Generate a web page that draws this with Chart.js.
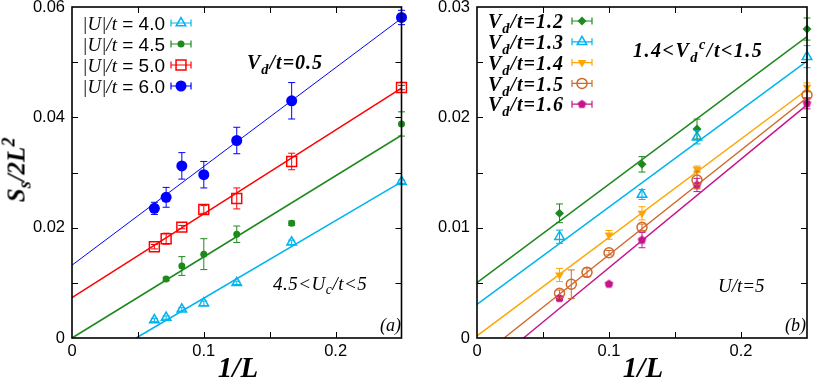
<!DOCTYPE html>
<html>
<head>
<meta charset="utf-8">
<script src="https://cdn.jsdelivr.net/npm/chart.js@4/dist/chart.umd.min.js"></script>
<style>
  body { margin: 0; width: 814px; height: 382px; overflow: hidden; background: #fff; position: relative; }
  canvas { position: absolute; }
  .t { position: absolute; white-space: nowrap; line-height: 1; color: #000; font-family: "Liberation Serif", serif; font-style: italic; }
  .t sub { font-size: 72%; vertical-align: -0.35em; line-height: 0; }
  .t sup { font-size: 72%; vertical-align: 0.55em; line-height: 0; }
  .b { font-weight: bold; }
  .sans { font-family: "Liberation Sans", sans-serif; font-style: normal; }
  .leg { font-size: 19px; transform: translateY(-50%); }
  .legb { font-size: 20px; letter-spacing: 1px; transform: translateY(-50%); }
  .note { font-size: 18px; transform: translateY(-50%); }
</style>
</head>
<body>
<canvas id="chart-a" width="410" height="402" style="left:0;top:-20px"></canvas>
<canvas id="chart-b" width="404" height="402" style="left:410px;top:-20px"></canvas>

<div class="t b" style="left:16px;top:170px;font-size:25px;transform:translate(-50%,-50%) rotate(-90deg)">S<sub>s</sub>/2L<sup>2</sup></div>
<div class="t b" style="left:238px;top:367px;font-size:29px;transform:translate(-50%,-50%)">1/L</div>
<div class="t b" style="left:643px;top:367px;font-size:29px;transform:translate(-50%,-50%)">1/L</div>

<div class="t leg" style="right:649px;top:23px">|U|/t<span class="sans"> = 4.0</span></div>
<div class="t leg" style="right:649px;top:44px">|U|/t<span class="sans"> = 4.5</span></div>
<div class="t leg" style="right:649px;top:65px">|U|/t<span class="sans"> = 5.0</span></div>
<div class="t leg" style="right:649px;top:86px">|U|/t<span class="sans"> = 6.0</span></div>

<div class="t b legb" style="right:250px;top:21px">V<sub>d</sub>/t=1.2</div>
<div class="t b legb" style="right:250px;top:42px">V<sub>d</sub>/t=1.3</div>
<div class="t b legb" style="right:250px;top:63px">V<sub>d</sub>/t=1.4</div>
<div class="t b legb" style="right:250px;top:84px">V<sub>d</sub>/t=1.5</div>
<div class="t b legb" style="right:250px;top:104px">V<sub>d</sub>/t=1.6</div>

<div class="t b note" style="left:247px;top:62px;font-size:20px;letter-spacing:1px">V<sub>d</sub>/t=0.5</div>
<div class="t note" style="left:273px;top:283px;font-size:19px;letter-spacing:0.5px">4.5&lt;U<sub>c</sub>/t&lt;5</div>
<div class="t note" style="right:413px;top:325px">(a)</div>
<div class="t b note" style="left:633px;top:50px;font-size:20px;letter-spacing:1.5px">1.4&lt;V<sub>d</sub><sup>c</sup>/t&lt;1.5</div>
<div class="t note" style="left:718px;top:285px;font-size:19px">U/t=5</div>
<div class="t note" style="right:8px;top:325px">(b)</div>

<script>
// ---------------------------------------------------------------------------
// Data. x is 1/L, y is S_s/2L^2, err is the half-height
// of each error bar. Fits are stored as intercept + slope.
// ---------------------------------------------------------------------------

const X_MAX = 0.25;
const xTickLabels = [0, 0.1, 0.2];
const xTickMarks = [0.05, 0.1, 0.15, 0.2];
const yTickLabelsA = [0, 0.02, 0.04, 0.06];
const yTickMarksA = [0.01, 0.02, 0.03, 0.04, 0.05];
const yTickLabelsB = [0, 0.01, 0.02, 0.03];
const yTickMarksB = [0.005, 0.01, 0.015, 0.02, 0.025];

// panel (a): V_d/t = 0.5
const aU40L = [16, 14, 12, 10, 8, 6, 4];
const aU40 = [0.00326, 0.0037, 0.0052, 0.0063, 0.0100, 0.01734, 0.02833];
const aU40Err = [0.0003, 0.0003, 0.0003, 0.0004, 0.0003, 0.0004, 0.0003];

const aU45L = [14, 12, 10, 8, 6, 4];
const aU45 = [0.0107, 0.01305, 0.0152, 0.0188, 0.0208, 0.0388];
const aU45Err = [0.0003, 0.0017, 0.0028, 0.0015, 0.0004, 0.0022];

const aU50L = [16, 14, 12, 10, 8, 6, 4];
const aU50 = [0.01655, 0.0180, 0.0201, 0.0233, 0.0253, 0.0320, 0.0454];
const aU50Err = [0.0004, 0.0010, 0.0003, 0.0007, 0.0019, 0.0015, 0.0004];

const aU60L = [16, 14, 12, 10, 8, 6, 4];
const aU60 = [0.0235, 0.0255, 0.0312, 0.0296, 0.0358, 0.0430, 0.0581];
const aU60Err = [0.0011, 0.0018, 0.0024, 0.0024, 0.0024, 0.0033, 0.0013];

const aFitIntercept = [-0.00683, 0, 0.0073, 0.0132];
const aFitSlope = [0.1405, 0.147, 0.152, 0.179];

// panel (b): U/t = 5
const bV12L = [16, 8, 6, 4];
const bV12 = [0.0113, 0.01574, 0.01894, 0.0280];
const bV12Err = [0.00085, 0.0007, 0.0009, 0.0010];

const bV13L = [16, 8, 6, 4];
const bV13 = [0.00918, 0.0130, 0.01819, 0.0255];
const bV13Err = [0.0006, 0.00045, 0.0006, 0.0010];

const bV14L = [16, 10, 8, 6, 4];
const bV14 = [0.00571, 0.00934, 0.0113, 0.01529, 0.02272];
const bV14Err = [0.0006, 0.0004, 0.0006, 0.0003, 0.0004];

const bV15L = [16, 14, 12, 10, 8, 6, 4];
const bV15 = [0.00405, 0.00487, 0.00595, 0.00773, 0.01003, 0.01432, 0.02202];
const bV15Err = [0.0003, 0.0013, 0.0004, 0.0002, 0.0003, 0.0008, 0.0003];

const bV16L = [16, 10, 8, 6, 4];
const bV16 = [0.0036, 0.00489, 0.00888, 0.01387, 0.02127];
const bV16Err = [0.0002, 0.0001, 0.0007, 0.0006, 0.0005];

const bFitIntercept = [0.00501, 0.00305, 0.0002, -0.00195, -0.00347];
const bFitSlope = [0.0892, 0.0882, 0.0892, 0.0949, 0.0984];

const CYAN = "#00b4f0", GREEN = "#1e8a1e", RED = "#ff0000", BLUE = "#0000ff";
const ORANGE = "#ffa500", BROWN = "#d0692a", MAGENTA = "#c8148c";

// ---------------------------------------------------------------------------
// Helpers
// ---------------------------------------------------------------------------

function pts(sizes, ys) {
  return sizes.map((L, i) => ({ x: 1 / L, y: ys[i] }));
}

function fitLine(b, m) {
  const x0 = Math.max(0, -b / m);
  return [{ x: x0, y: b + m * x0 }, { x: X_MAX, y: b + m * X_MAX }];
}

function pentagon(color, r) {
  const c = document.createElement("canvas");
  c.width = c.height = Math.ceil(r * 2 + 2);
  const g = c.getContext("2d");
  g.fillStyle = color;
  g.beginPath();
  for (let k = 0; k < 5; k++) {
    const a = -Math.PI / 2 + k * 2 * Math.PI / 5;
    g.lineTo(c.width / 2 + r * Math.cos(a), c.height / 2 + r * Math.sin(a));
  }
  g.closePath();
  g.fill();
  return c;
}

function marks(label, sizes, ys, errs, color, style) {
  return Object.assign({
    label, data: pts(sizes, ys), errors: errs,
    borderColor: color, backgroundColor: color,
    pointBorderWidth: 1.5, borderWidth: 1.5, order: 1, clip: false,
  }, style);
}

function fit(b, m, color, width) {
  return {
    type: "line", data: fitLine(b, m), showLine: true,
    borderColor: color, borderWidth: width || 1.5, pointRadius: 0, order: 2, clip: false,
  };
}

// ---------------------------------------------------------------------------
// Plugins: inward tick marks + frame, error bars, legend symbols
// ---------------------------------------------------------------------------

const frameTicks = {
  id: "frameTicks",
  afterDraw(chart, args, opts) {
    const { ctx, chartArea: { left, right, top, bottom }, scales: { x, y } } = chart;
    ctx.save();
    ctx.strokeStyle = "#000";
    ctx.lineWidth = 1;
    ctx.beginPath();
    opts.xMarks.forEach(v => {
      const px = Math.round(x.getPixelForValue(v)) + 0.5;
      ctx.moveTo(px, bottom); ctx.lineTo(px, bottom - 6);
      ctx.moveTo(px, top); ctx.lineTo(px, top + 6);
    });
    opts.yMarks.forEach(v => {
      const py = Math.round(y.getPixelForValue(v)) + 0.5;
      ctx.moveTo(left, py); ctx.lineTo(left + 6, py);
      ctx.moveTo(right, py); ctx.lineTo(right - 6, py);
    });
    ctx.stroke();
    ctx.lineWidth = 1.6;
    ctx.strokeRect(left, top, right - left, bottom - top);
    ctx.restore();
  },
};

const errorBars = {
  id: "errorBars",
  afterDatasetsDraw(chart) {
    const { ctx, scales: { y } } = chart;
    ctx.save();
    ctx.lineWidth = 1;
    chart.data.datasets.forEach((ds, i) => {
      if (!ds.errors) return;
      const meta = chart.getDatasetMeta(i);
      ctx.strokeStyle = ds.borderColor;
      ctx.beginPath();
      meta.data.forEach((pt, j) => {
        const v = ds.data[j].y, e = ds.errors[j];
        const y1 = y.getPixelForValue(v + e), y2 = y.getPixelForValue(v - e);
        ctx.moveTo(pt.x, y1); ctx.lineTo(pt.x, y2);
        ctx.moveTo(pt.x - 3.5, y1); ctx.lineTo(pt.x + 3.5, y1);
        ctx.moveTo(pt.x - 3.5, y2); ctx.lineTo(pt.x + 3.5, y2);
      });
      ctx.stroke();
    });
    ctx.restore();
  },
};

const legendMarks = {
  id: "legendMarks",
  afterDraw(chart, args, opts) {
    const ctx = chart.ctx;
    opts.rows.forEach((idx, k) => {
      const ds = chart.data.datasets[idx];
      const x = opts.x, y = opts.y0 + k * opts.dy;
      ctx.save();
      ctx.strokeStyle = ds.borderColor;
      ctx.lineWidth = 1.2;
      ctx.beginPath();
      ctx.moveTo(x - 10, y); ctx.lineTo(x + 10, y);
      ctx.moveTo(x - 10, y - 3.5); ctx.lineTo(x - 10, y + 3.5);
      ctx.moveTo(x + 10, y - 3.5); ctx.lineTo(x + 10, y + 3.5);
      ctx.stroke();
      ctx.fillStyle = ds.backgroundColor;
      ctx.lineWidth = ds.pointBorderWidth;
      Chart.helpers.drawPoint(ctx, {
        pointStyle: ds.pointStyle, radius: ds.pointRadius,
        rotation: ds.pointRotation || 0, borderWidth: ds.pointBorderWidth,
      }, x, y);
      ctx.restore();
    });
  },
};

// ---------------------------------------------------------------------------
// Chart setup
// ---------------------------------------------------------------------------

function axes(yMax, yLabels, yWidth) {
  const tickFont = { family: "Liberation Sans", size: 16.5 };
  return {
    x: {
      type: "linear", min: 0, max: X_MAX,
      grid: { display: false, drawTicks: false }, border: { display: false },
      ticks: { color: "#000", font: tickFont, padding: 4, maxRotation: 0 },
      afterBuildTicks: s => { s.ticks = xTickLabels.map(v => ({ value: v })); },
      afterFit: s => { s.height = 44; },
    },
    y: {
      type: "linear", min: 0, max: yMax,
      grid: { display: false, drawTicks: false }, border: { display: false },
      ticks: { color: "#000", font: tickFont, padding: 7 },
      afterBuildTicks: s => { s.ticks = yLabels.map(v => ({ value: v })); },
      afterFit: s => { s.width = yWidth; },
    },
  };
}

const open = "rgba(0,0,0,0)";

new Chart(document.getElementById("chart-a"), {
  type: "scatter",
  data: {
    datasets: [
      marks("|U|/t = 4.0", aU40L, aU40, aU40Err, CYAN, { pointStyle: "triangle", pointRadius: 5.5, backgroundColor: open }),
      marks("|U|/t = 4.5", aU45L, aU45, aU45Err, GREEN, { pointStyle: "circle", pointRadius: 3.5, pointBorderWidth: 0 }),
      marks("|U|/t = 5.0", aU50L, aU50, aU50Err, RED, { pointStyle: "rect", pointRadius: 7, backgroundColor: open }),
      marks("|U|/t = 6.0", aU60L, aU60, aU60Err, BLUE, { pointStyle: "circle", pointRadius: 5.5, pointBorderWidth: 0 }),
      fit(aFitIntercept[0], aFitSlope[0], CYAN),
      fit(aFitIntercept[1], aFitSlope[1], GREEN),
      fit(aFitIntercept[2], aFitSlope[2], RED),
      fit(aFitIntercept[3], aFitSlope[3], BLUE, 1),
    ],
  },
  options: {
    responsive: false, animation: false,
    layout: { padding: { top: 27, right: 6, left: 0, bottom: 0 } },
    scales: axes(0.06, yTickLabelsA, 72),
    plugins: {
      legend: { display: false }, tooltip: { enabled: false },
      frameTicks: { xMarks: xTickMarks, yMarks: yTickMarksA },
      legendMarks: { x: 181, y0: 43, dy: 21, rows: [0, 1, 2, 3] },
    },
  },
  plugins: [frameTicks, errorBars, legendMarks],
});

new Chart(document.getElementById("chart-b"), {
  type: "scatter",
  data: {
    datasets: [
      marks("V_d/t=1.2", bV12L, bV12, bV12Err, GREEN, { pointStyle: "rectRot", pointRadius: 4.5, pointBorderWidth: 0 }),
      marks("V_d/t=1.3", bV13L, bV13, bV13Err, CYAN, { pointStyle: "triangle", pointRadius: 5.5, backgroundColor: open }),
      marks("V_d/t=1.4", bV14L, bV14, bV14Err, ORANGE, { pointStyle: "triangle", pointRotation: 180, pointRadius: 5, pointBorderWidth: 0 }),
      marks("V_d/t=1.5", bV15L, bV15, bV15Err, BROWN, { pointStyle: "circle", pointRadius: 5, backgroundColor: open }),
      marks("V_d/t=1.6", bV16L, bV16, bV16Err, MAGENTA, { pointStyle: pentagon(MAGENTA, 4.5), pointRadius: 4.5, pointBorderWidth: 0 }),
      fit(bFitIntercept[0], bFitSlope[0], GREEN),
      fit(bFitIntercept[1], bFitSlope[1], CYAN),
      fit(bFitIntercept[2], bFitSlope[2], ORANGE),
      fit(bFitIntercept[3], bFitSlope[3], BROWN),
      fit(bFitIntercept[4], bFitSlope[4], MAGENTA),
    ],
  },
  options: {
    responsive: false, animation: false,
    layout: { padding: { top: 27, right: 5, left: 0, bottom: 0 } },
    scales: axes(0.03, yTickLabelsB, 67),
    plugins: {
      legend: { display: false }, tooltip: { enabled: false },
      frameTicks: { xMarks: xTickMarks, yMarks: yTickMarksB },
      legendMarks: { x: 172, y0: 41, dy: 20.8, rows: [0, 1, 2, 3, 4] },
    },
  },
  plugins: [frameTicks, errorBars, legendMarks],
});
</script>
</body>
</html>
